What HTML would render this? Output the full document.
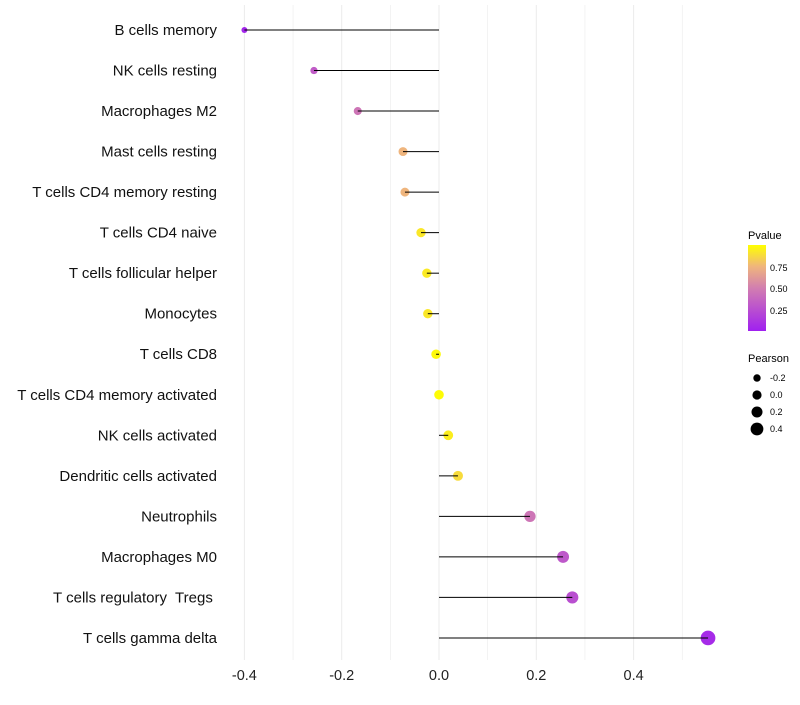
<!DOCTYPE html>
<html><head><meta charset="utf-8"><style>
body{margin:0;background:#fff;font-family:"Liberation Sans",sans-serif}
text{white-space:pre}
</style></head><body>
<svg id="c" width="800" height="700" xmlns="http://www.w3.org/2000/svg">
<defs><linearGradient id="pg" x1="0" y1="1" x2="0" y2="0">
<stop offset="0" stop-color="#a020f0"/><stop offset="0.5" stop-color="#d27eb0"/><stop offset="0.75" stop-color="#efb57d"/><stop offset="1" stop-color="#ffff00"/></linearGradient></defs>
<g id="grid"></g><g id="marks"></g><g id="labels"></g>
<g>
<text x="748" y="239" font-size="11">Pvalue</text>
<rect x="748" y="245" width="18" height="86" fill="url(#pg)"/>
<text x="770" y="271" font-size="9">0.75</text><text x="770" y="292" font-size="9">0.50</text><text x="770" y="314" font-size="9">0.25</text>
</g>
<g>
<text x="748" y="362" font-size="11">Pearson</text>
<circle cx="757" cy="378" r="3.7"/><text x="770" y="381" font-size="9">-0.2</text>
<circle cx="757" cy="395" r="4.6"/><text x="770" y="398" font-size="9">0.0</text>
<circle cx="757" cy="412" r="5.5"/><text x="770" y="415" font-size="9">0.2</text>
<circle cx="757" cy="429" r="6.4"/><text x="770" y="432" font-size="9">0.4</text>
</g>
</svg>
<script>
const categories=["B cells memory","NK cells resting","Macrophages M2","Mast cells resting","T cells CD4 memory resting","T cells CD4 naive","T cells follicular helper","Monocytes","T cells CD8","T cells CD4 memory activated","NK cells activated","Dendritic cells activated","Neutrophils","Macrophages M0","T cells regulatory  Tregs ","T cells gamma delta"];
const pearson=[-0.40,-0.257,-0.167,-0.074,-0.070,-0.037,-0.025,-0.023,-0.006,0.0,0.019,0.039,0.187,0.255,0.274,0.553];
const pvalues=[0.03,0.32,0.45,0.75,0.75,0.92,0.93,0.92,0.98,0.99,0.94,0.88,0.45,0.3,0.25,0.06];
const ticks=[-0.4,-0.2,0.0,0.2,0.4];
const NS="http://www.w3.org/2000/svg";
const x=v=>439+v*486.5;
const y=i=>30+i*40.53;
const rad=p=>Math.max(2.2,4.8+4.6*p);
function col(p){const s=[[0,[160,32,240]],[0.5,[210,126,176]],[0.75,[239,181,125]],[1,[255,255,0]]];
for(let k=1;k<s.length;k++){if(p<=s[k][0]){const t=(p-s[k-1][0])/(s[k][0]-s[k-1][0]);const a=s[k-1][1],b=s[k][1];return `rgb(${a.map((v,j)=>Math.round(v+(b[j]-v)*t)).join(',')})`;}}return 'rgb(255,255,0)';}
function mk(t,a,p){const e=document.createElementNS(NS,t);for(const k in a)e.setAttribute(k,a[k]);p.appendChild(e);return e;}
const g=document.getElementById('grid'),m=document.getElementById('marks'),l=document.getElementById('labels');
for(let v=-0.4;v<=0.55;v+=0.1){const gl=mk('line',{x1:x(v),x2:x(v),y1:5,y2:660,stroke:'#ebebeb','stroke-width':Math.abs(Math.round(v*10))%2==0?1:0.6},g);

}
ticks.forEach(t=>{const tx=mk('text',{x:x(t),y:680,'font-size':14.5,'text-anchor':'middle',fill:'#222'},l);tx.textContent=t.toFixed(1);

});
categories.forEach((c,i)=>{
const tx=mk('text',{x:217,y:y(i)+5,'font-size':15,'text-anchor':'end',fill:'#111'},l);tx.textContent=c;


const pt=mk('circle',{cx:x(pearson[i]),cy:y(i),r:rad(pearson[i]),fill:col(pvalues[i])},m);


const ln=mk('line',{x1:x(0),x2:x(pearson[i]),y1:y(i),y2:y(i),stroke:'#000','stroke-width':1},m);


});
</script>
</body></html>
